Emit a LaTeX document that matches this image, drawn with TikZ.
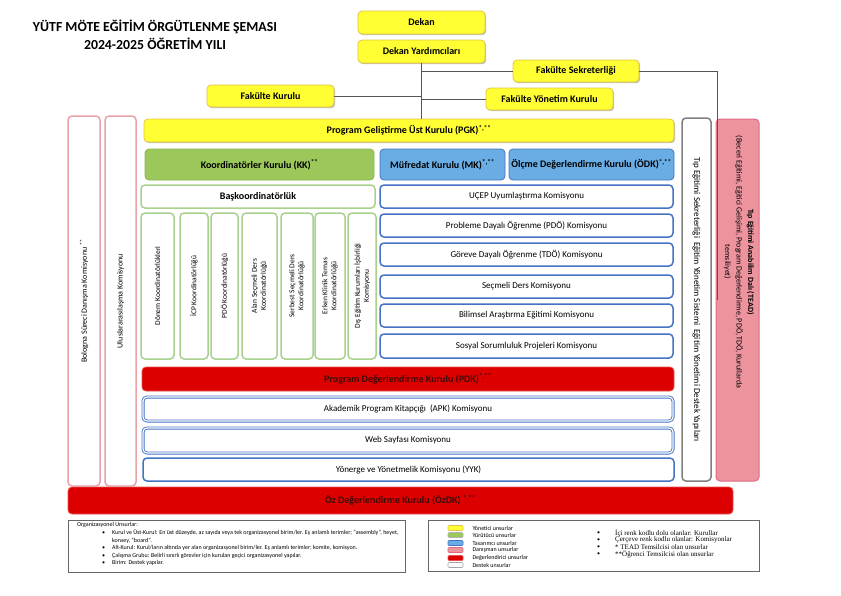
\documentclass[tikz,border=0pt]{standalone}
\usepackage{fontspec}
\setmainfont{Carlito}
\newfontfamily\legserif{Liberation Serif}
\usetikzlibrary{positioning,shadows}

\definecolor{ylw}{HTML}{FFFF33}
\definecolor{ylwline}{HTML}{E3C341}
\definecolor{grn}{HTML}{9CC75B}
\definecolor{grnline}{HTML}{86B94A}
\definecolor{grnlight}{HTML}{A9D18E}
\definecolor{blu}{HTML}{6AADE4}
\definecolor{bluline}{HTML}{4472C4}
\definecolor{kirmizi}{HTML}{DD0000}
\definecolor{kirmiziline}{HTML}{E85050}
\definecolor{kirmizitext}{HTML}{3B0A0A}
\definecolor{pinkline}{HTML}{E8A2A8}
\definecolor{pinkfill}{HTML}{EC939E}
\definecolor{pinkdark}{HTML}{E06A80}
\definecolor{grayline}{HTML}{7F7F7F}
\definecolor{connline}{HTML}{555555}

\begin{document}
\begin{tikzpicture}[x=1pt,y=-1pt,
    wh/.style 2 args = {minimum width=#1pt,minimum height=#2pt},
    base/.style = {inner sep=0pt,rounded corners=4pt,font=\fontsize{9}{11}\selectfont},
    kalin/.style = {font=\fontsize{10}{12}\selectfont\bfseries},
    yonetici/.style = {base,kalin,draw=ylwline,fill=ylw,line width=0.8pt,
        drop shadow={shadow xshift=1.2pt,shadow yshift=-1.2pt,fill=black,opacity=0.25}},
    yurutucu/.style = {base,kalin,draw=grnline,fill=grn,line width=0.8pt},
    yurutucukom/.style = {base,draw=grnlight,fill=white,line width=1.5pt},
    tasarim/.style = {base,kalin,draw=bluline,fill=blu,line width=0.8pt},
    tasarimkom/.style = {base,draw=bluline,fill=white,line width=1.5pt},
    cifte/.style = {base,draw=bluline,double=white,double distance=1.2pt,line width=0.9pt},
    degerlendirici/.style = {base,kalin,draw=kirmiziline,fill=kirmizi,line width=0.8pt,text=kirmizitext},
    danisman/.style = {base,draw=pinkline,fill=white,line width=1.5pt,font=\fontsize{8}{10}\selectfont},
    destek/.style = {base,draw=grayline,fill=white,line width=1.5pt,font=\fontsize{9}{11}\selectfont},
    dikey/.style = {base,draw=grnlight,fill=white,line width=1.5pt,font=\fontsize{7.5}{9}\selectfont,align=center,rotate=90},
    conn/.style = {draw=connline,line width=0.8pt},
    legbox/.style = {draw=grayline!80!black,fill=white,line width=0.8pt,inner sep=0pt,
        drop shadow={shadow xshift=1pt,shadow yshift=-1pt,fill=black,opacity=0.2}},
    legtxt/.style = {inner sep=0pt,anchor=west,font=\fontsize{6}{7}\selectfont},
    legserif/.style = {legtxt,font=\fontsize{7}{8}\legserif},
    swatch/.style = {draw,line width=0.6pt,rounded corners=1pt,inner sep=0pt,minimum width=15pt,minimum height=5pt}]
    \useasboundingbox (0,0) rectangle (841,595);

    % baslik
    \node at (155,35) [align=center,font=\fontsize{13.8}{18}\selectfont\bfseries] (baslik)
        {YÜTF MÖTE EĞİTİM ÖRGÜTLENME ŞEMASI\\2024-2025 ÖĞRETİM YILI};

    % yonetim
    \node at (421.5,22.5) [yonetici,wh={127}{23}] (dk) {Dekan};
    \node at (421.5,51.5) [yonetici,wh={127}{23}] (dy) {Dekan Yardımcıları};
    \node at (576,71) [yonetici,wh={126}{22}] (fs) {Fakülte Sekreterliği};
    \node at (270.5,96) [yonetici,wh={127}{22}] (fk) {Fakülte Kurulu};
    \node at (549.5,99) [yonetici,wh={127}{22}] (fyk) {Fakülte Yönetim Kurulu};

    % kurullar
    \node at (409,130.5) [yonetici,wh={530}{23}] (pgk) {Program Geliştirme Üst Kurulu (PGK)\textsuperscript{*,**}};
    \node at (259.5,164.5) [yurutucu,wh={229}{31}] (kk) {Koordinatörler Kurulu (KK)\textsuperscript{**}};
    \node at (442.5,164.5) [tasarim,wh={125}{31}] (mk) {Müfredat Kurulu (MK)\textsuperscript{*,**}};
    \node at (591.5,164.5) [tasarim,wh={165}{31}] (odk) {Ölçme Değerlendirme Kurulu (ÖDK)\textsuperscript{*,**}};
    \node at (258,196.5) [yurutucukom,kalin,wh={234}{23}] (bask) {Başkoordinatörlük};

    % koordinatorlukler
    \node at (157.5,286) [dikey,wh={146}{33}] (donem) {Dönem Koordinatörlükleri};
    \node at (194,286) [dikey,wh={146}{28}] (icp) {İCP Koordinatörlüğü};
    \node at (224.5,286) [dikey,wh={146}{27}] (pdok) {PDÖ Koordinatörlüğü};
    \node at (259.5,286) [dikey,wh={146}{35}] (alan) {Alan Seçmeli Ders\\Koordinatörlüğü};
    \node at (297,286) [dikey,wh={146}{32}] (serbest) {Serbest Seçmeli Ders\\Koordinatörlüğü};
    \node at (330,286) [dikey,wh={146}{30}] (erken) {Erken Klinik Temas\\Koordinatörlüğü};
    \node at (362,286) [dikey,wh={146}{28}] (dis) {Dış Eğitim Kurumları İşbirliği\\Komisyonu};

    % komisyonlar
    \node at (526.5,196.5) [tasarimkom,wh={293}{23}] (ucep) {UÇEP Uyumlaştırma Komisyonu};
    \node at (526.5,225.5) [tasarimkom,wh={293}{23}] (pdo) {Probleme Dayalı Öğrenme (PDÖ) Komisyonu};
    \node at (526.5,254.5) [tasarimkom,wh={293}{23}] (tdo) {Göreve Dayalı Öğrenme (TDÖ) Komisyonu};
    \node at (526.5,286.5) [tasarimkom,wh={293}{23}] (secmeli) {Seçmeli Ders Komisyonu};
    \node at (526.5,315.5) [tasarimkom,wh={293}{23}] (bilimsel) {Bilimsel Araştırma Eğitimi Komisyonu};
    \node at (526.5,346) [tasarimkom,wh={293}{24}] (sosyal) {Sosyal Sorumluluk Projeleri Komisyonu};

    \node at (408,379) [degerlendirici,wh={532}{24}] (pdk) {Program Değerlendirme Kurulu (PDK)\textsuperscript{*,**}};
    \node at (408,409) [cifte,wh={530}{24}] (apk) {Akademik Program Kitapçığı~ (APK) Komisyonu};
    \node at (408,440.5) [cifte,wh={530}{25}] (web) {Web Sayfası Komisyonu};
    \node at (408.5,469.5) [tasarimkom,wh={531}{23}] (yyk) {Yönerge ve Yönetmelik Komisyonu (YYK)};
    \node at (400.5,500.5) [degerlendirici,wh={665}{27}] (ozdk) {Öz Değerlendirme Kurulu (ÖzDK) \textsuperscript{*,**}};

    % yan sutunlar
    \node at (84,301) [danisman,wh={370}{32},rotate=90] (bologna) {Bologna Süreci Danışma Komisyonu \textsuperscript{**}};
    \node at (120.5,301) [danisman,wh={370}{31},rotate=90] (ulus) {Uluslararasılaşma Komisyonu};
    \node at (696.5,299.5) [destek,wh={363}{29},rotate=-90] (tes)
        {Tıp Eğitimi Sekreterliği~ Eğitim Yönetim Sistemi~ Eğitim Yönetimi Destek Yapıları};
    \node at (737.5,300) [base,draw=pinkdark,fill=pinkfill,line width=1pt,wh={43}{362}] (tead) {};
    \node at (739,262) [rotate=-90,align=center,inner sep=0pt,font=\fontsize{8}{11.5}\selectfont] (teadyazi)
        {\textbf{Tıp Eğitimi Anabilim Dalı (TEAD)}\\(Beceri Eğitimi, Eğitici Gelişimi, Program Değerlendirme, PDÖ, TDÖ, Kurullarda\\temsiliyet)};

    % baglantilar
    \draw[conn] (dy.south) -- (dy.south |- pgk.north);
    \draw[conn] (fk.east) -- (fk.east -| dy.south);
    \draw[conn] (fs.west) -- (fs.west -| dy.south);
    \draw[conn] (fyk.west) -- (fyk.west -| dy.south);
    \draw[conn] (fs.east) -| ([xshift=6pt]tes.north);

    % aciklama (sol)
    \node at (236.5,546) [legbox,wh={337}{52}] (org) {};
    \node at (77,525) [legtxt] (orgbaslik) {Organizasyonel Unsurlar:};
    \node at (102,533) [legtxt] (m1) {\textbullet};
    \node at (112,533) [legtxt] (t1) {Kurul ve Üst-Kurul: En üst düzeyde, az sayıda veya tek organizasyonel birim/ler. Eş anlamlı terimler; “assembly”, heyet,};
    \node at (112,541) [legtxt] (t1b) {konsey, “board”.};
    \node at (102,548) [legtxt] (m2) {\textbullet};
    \node at (112,548) [legtxt] (t2) {Alt-Kurul: Kurul/ların altında yer alan organizasyonel birim/ler. Eş anlamlı terimler; komite, komisyon.};
    \node at (102,556) [legtxt] (m3) {\textbullet};
    \node at (112,556) [legtxt] (t3) {Çalışma Grubu: Belirli sınırlı görevler için kurulan geçici organizasyonel yapılar.};
    \node at (102,563) [legtxt] (m4) {\textbullet};
    \node at (112,563) [legtxt] (t4) {Birim: Destek yapılar.};

    % aciklama (sag)
    \node at (593.5,545.5) [legbox,wh={331}{51}] (renk) {};
    \node at (455.5,528) [swatch,draw=ylwline,fill=ylw] (s1) {};
    \node at (455.5,535) [swatch,draw=gray!60,fill=grn] (s2) {};
    \node at (455.5,543) [swatch,draw=bluline,fill=blu] (s3) {};
    \node at (455.5,550) [swatch,draw=pinkdark,fill=pinkfill] (s4) {};
    \node at (455.5,558) [swatch,draw=kirmiziline,fill=kirmizi] (s5) {};
    \node at (455.5,565) [swatch,draw=gray!70,fill=white] (s6) {};
    \node [legtxt,right=9pt of s1] (l1) {Yönetici unsurlar};
    \node [legtxt,right=9pt of s2] (l2) {Yürütücü unsurlar};
    \node [legtxt,right=9pt of s3] (l3) {Tasarımcı unsurlar};
    \node [legtxt,right=9pt of s4] (l4) {Danışman unsurlar};
    \node [legtxt,right=9pt of s5] (l5) {Değerlendirici unsurlar};
    \node [legtxt,right=9pt of s6] (l6) {Destek unsurlar};
    \node at (597,533) [legtxt] (n1) {\textbullet};
    \node at (615,533) [legserif] (r1) {İçi renk kodlu dolu olanlar: Kurullar};
    \node at (597,540) [legtxt] (n2) {\textbullet};
    \node at (615,540) [legserif] (r2) {Çerçeve renk kodlu olanlar: Komisyonlar};
    \node at (597,547) [legtxt] (n3) {\textbullet};
    \node at (615,547) [legserif] (r3) {* TEAD Temsilcisi olan unsurlar};
    \node at (597,554) [legtxt] (n4) {\textbullet};
    \node at (615,554) [legserif] (r4) {**Öğrenci Temsilcisi olan unsurlar};
\end{tikzpicture}
\end{document}
